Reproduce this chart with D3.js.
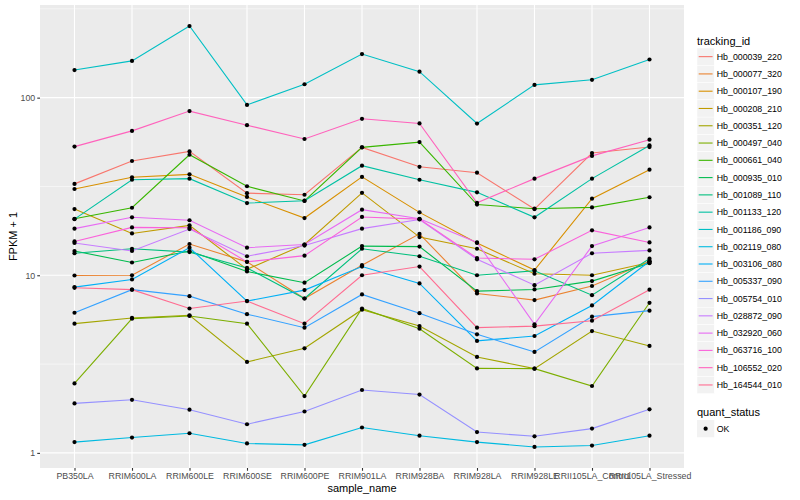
<!DOCTYPE html>
<html>
<head>
<meta charset="utf-8">
<script src="https://cdn.jsdelivr.net/npm/d3@7"></script>
<style>
  body { margin: 0; background: #fff; }
  svg text { font-family: "Liberation Sans", Arial, sans-serif; }
</style>
</head>
<body>
<div id="container"></div>
<script>
"use strict";

const width = 800;
const height = 500;
const margin = { top: 5, right: 116, bottom: 32, left: 40 };

const samples = [
  "PB350LA", "RRIM600LA", "RRIM600LE", "RRIM600SE", "RRIM600PE", "RRIM901LA",
  "RRIM928BA", "RRIM928LA", "RRIM928LE", "RRII105LA_Control", "RRII105LA_Stressed",
];

const trackingIds = [
  "Hb_000039_220", "Hb_000077_320", "Hb_000107_190", "Hb_000208_210", "Hb_000351_120",
  "Hb_000497_040", "Hb_000661_040", "Hb_000935_010", "Hb_001089_110", "Hb_001133_120",
  "Hb_001186_090", "Hb_002119_080", "Hb_003106_080", "Hb_005337_090", "Hb_005754_010",
  "Hb_028872_090", "Hb_032920_060", "Hb_063716_100", "Hb_106552_020", "Hb_164544_010",
];

const hueColors = [
  "#F8766D", "#EA8331", "#D89000", "#C09B00", "#A3A500", "#7CAE00", "#39B600",
  "#00BB4E", "#00BF7D", "#00C1A3", "#00BFC4", "#00BAE0", "#00B0F6", "#35A2FF",
  "#9590FF", "#C77CFF", "#E76BF3", "#FA62DB", "#FF62BC", "#FF6C91",
];

// FPKM + 1, one array per tracking_id, in sample order
const hb000039 = [32.7, 44, 49.8, 29, 28.4, 52.5, 40.8, 37.8, 23.6, 48.8, 52.7];
const hb000077 = [9.97, 10.0, 15.0, 11.9, 7.4, 11.4, 17.1, 7.9, 7.25, 8.7, 12.0];
const hb000107 = [30.6, 35.6, 37.0, 27.6, 21.0, 35.8, 22.6, 15.2, 10.7, 27.0, 39.3];
const hb000208 = [23.6, 17.2, 19.1, 10.8, 14.9, 29.1, 16.4, 14.1, 10.2, 10.0, 11.8];
const hb000351 = [5.34, 5.75, 5.95, 3.25, 3.88, 6.4, 5.18, 3.47, 2.98, 4.85, 4.0];
const hb000497 = [2.46, 5.7, 5.9, 5.34, 2.09, 6.5, 5.0, 2.99, 2.98, 2.38, 7.0];
const hb000661 = [20.8, 24.0, 47.7, 31.7, 26.2, 52.5, 56.2, 25.0, 23.7, 24.1, 27.5];
const hb000935 = [13.7, 11.8, 13.7, 10.5, 9.08, 14.6, 14.5, 8.14, 8.32, 9.27, 11.7];
const hb001089 = [13.3, 14.1, 13.5, 11.0, 7.4, 14.1, 12.8, 10.0, 10.6, 7.73, 12.4];
const hb001133 = [20.7, 34.5, 35.0, 25.5, 26.3, 41.4, 34.5, 29.3, 21.2, 35.0, 53.8];
const hb001186 = [143, 161, 253, 91, 119, 176, 140, 71.5, 118, 126, 164];
const hb002119 = [1.15, 1.22, 1.29, 1.13, 1.11, 1.39, 1.25, 1.15, 1.08, 1.10, 1.25];
const hb003106 = [8.58, 9.47, 14.3, 7.16, 8.25, 11.2, 9.0, 4.27, 4.55, 6.76, 12.0];
const hb005337 = [6.15, 8.3, 7.63, 6.04, 5.07, 7.8, 6.12, 4.65, 3.70, 5.85, 6.32];
const hb005754 = [1.90, 1.99, 1.75, 1.45, 1.71, 2.26, 2.13, 1.31, 1.24, 1.37, 1.76];
const hb028872 = [15.2, 13.7, 18.2, 12.8, 14.7, 18.3, 20.6, 12.3, 8.8, 13.3, 13.8];
const hb032920 = [18.3, 21.2, 20.4, 14.3, 14.9, 23.4, 20.8, 15.3, 5.3, 14.6, 18.6];
const hb063716 = [15.5, 18.6, 18.5, 11.9, 12.9, 21.3, 20.7, 12.5, 12.3, 17.9, 15.3];
const hb106552 = [53, 65, 84, 70, 58.5, 76, 71.6, 25.6, 35, 47, 58];
const hb164544 = [8.5, 8.3, 6.5, 7.16, 5.34, 10.0, 11.2, 5.07, 5.17, 5.55, 8.3];

const seriesValues = [
  hb000039, hb000077, hb000107, hb000208, hb000351, hb000497, hb000661,
  hb000935, hb001089, hb001133, hb001186, hb002119, hb003106, hb005337,
  hb005754, hb028872, hb032920, hb063716, hb106552, hb164544,
];

const yMajorTicks = [1, 10, 100];
const yMinorTicks = [Math.sqrt(10), Math.sqrt(1000), Math.sqrt(100000)];
const quantLevels = ["OK"];

const series = trackingIds.map((id, i) => ({
  id,
  color: hueColors[i],
  points: samples.map((s, j) => ({ sample: s, value: seriesValues[i][j] })),
}));

const allValues = seriesValues.flat();
const logMin = Math.log10(d3.min(allValues));
const logMax = Math.log10(d3.max(allValues));
const pad = (logMax - logMin) * 0.05;

const panelLeft = margin.left;
const panelRight = width - margin.right;
const panelTop = margin.top;
const panelBottom = height - margin.bottom;

const xScale = d3
  .scalePoint()
  .domain(samples)
  .range([panelLeft, panelRight])
  .padding(0.6);

const yScale = d3
  .scaleLog()
  .domain([Math.pow(10, logMin - pad), Math.pow(10, logMax + pad)])
  .range([panelBottom, panelTop]);

const svg = d3
  .select("#container")
  .append("svg")
  .attr("width", width)
  .attr("height", height);

svg
  .append("rect")
  .attr("x", panelLeft)
  .attr("y", panelTop)
  .attr("width", panelRight - panelLeft)
  .attr("height", panelBottom - panelTop)
  .attr("fill", "#EBEBEB");

const grid = svg.append("g");

grid
  .selectAll("line.minor")
  .data(yMinorTicks)
  .enter()
  .append("line")
  .attr("x1", panelLeft)
  .attr("x2", panelRight)
  .attr("y1", (d) => yScale(d))
  .attr("y2", (d) => yScale(d))
  .attr("stroke", "#fff")
  .attr("stroke-width", 0.55);

grid
  .selectAll("line.majory")
  .data(yMajorTicks)
  .enter()
  .append("line")
  .attr("x1", panelLeft)
  .attr("x2", panelRight)
  .attr("y1", (d) => yScale(d))
  .attr("y2", (d) => yScale(d))
  .attr("stroke", "#fff")
  .attr("stroke-width", 1.1);

grid
  .selectAll("line.majorx")
  .data(samples)
  .enter()
  .append("line")
  .attr("x1", (d) => xScale(d))
  .attr("x2", (d) => xScale(d))
  .attr("y1", panelTop)
  .attr("y2", panelBottom)
  .attr("stroke", "#fff")
  .attr("stroke-width", 1.1);

const line = d3
  .line()
  .x((d) => xScale(d.sample))
  .y((d) => yScale(d.value));

svg
  .append("g")
  .selectAll("path")
  .data(series)
  .enter()
  .append("path")
  .attr("d", (d) => line(d.points))
  .attr("fill", "none")
  .attr("stroke", (d) => d.color)
  .attr("stroke-width", 1.1);

svg
  .append("g")
  .selectAll("circle")
  .data(series.flatMap((d) => d.points))
  .enter()
  .append("circle")
  .attr("cx", (d) => xScale(d.sample))
  .attr("cy", (d) => yScale(d.value))
  .attr("r", 2.1)
  .attr("fill", "#000");

const yAxis = d3
  .axisLeft(yScale)
  .tickValues(yMajorTicks)
  .tickFormat(d3.format("d"))
  .tickSize(2.75)
  .tickPadding(2);

const xAxis = d3.axisBottom(xScale).tickSize(2.75).tickPadding(2.5);

const styleAxis = (g) => {
  g.select(".domain").remove();
  g.selectAll(".tick line").attr("stroke", "#333333").attr("stroke-width", 1.1);
  g.selectAll(".tick text")
    .attr("fill", "#4D4D4D")
    .style("font-size", "8.8px")
    .style("font-family", "'Liberation Sans', Arial, sans-serif");
};

svg
  .append("g")
  .attr("transform", `translate(${panelLeft}, 0)`)
  .call(yAxis)
  .call(styleAxis);

svg
  .append("g")
  .attr("transform", `translate(0, ${panelBottom})`)
  .call(xAxis)
  .call(styleAxis);

svg
  .append("text")
  .attr("x", (panelLeft + panelRight) / 2)
  .attr("y", 492)
  .attr("text-anchor", "middle")
  .style("font-size", "11px")
  .text("sample_name");

svg
  .append("text")
  .attr("text-anchor", "middle")
  .attr("transform", `translate(17, ${(panelTop + panelBottom) / 2}) rotate(-90)`)
  .style("font-size", "11px")
  .text("FPKM + 1");

// legends
const legendX = 697;
const keySize = 17.28;
const legend = svg.append("g");

legend
  .append("text")
  .attr("x", legendX)
  .attr("y", 44.5)
  .style("font-size", "11px")
  .text("tracking_id");

const keys = legend
  .selectAll("g.key")
  .data(series)
  .enter()
  .append("g")
  .attr("transform", (d, i) => `translate(${legendX}, ${48 + i * keySize})`);

keys
  .append("rect")
  .attr("width", keySize)
  .attr("height", keySize)
  .attr("fill", "#F2F2F2")
  .attr("stroke", "#fff")
  .attr("stroke-width", 0.5);

keys
  .append("line")
  .attr("x1", 1.7)
  .attr("x2", keySize - 1.7)
  .attr("y1", keySize / 2)
  .attr("y2", keySize / 2)
  .attr("stroke", (d) => d.color)
  .attr("stroke-width", 1.1);

keys
  .append("text")
  .attr("x", keySize + 2.5)
  .attr("y", keySize / 2 + 3.1)
  .style("font-size", "8.8px")
  .text((d) => d.id);

legend
  .append("text")
  .attr("x", legendX)
  .attr("y", 416)
  .style("font-size", "11px")
  .text("quant_status");

const qKeys = legend
  .selectAll("g.qkey")
  .data(quantLevels)
  .enter()
  .append("g")
  .attr("transform", (d, i) => `translate(${legendX}, ${420 + i * keySize})`);

qKeys
  .append("rect")
  .attr("width", keySize)
  .attr("height", keySize)
  .attr("fill", "#F2F2F2");

qKeys
  .append("circle")
  .attr("cx", keySize / 2)
  .attr("cy", keySize / 2)
  .attr("r", 2.1)
  .attr("fill", "#000");

qKeys
  .append("text")
  .attr("x", keySize + 2.5)
  .attr("y", keySize / 2 + 3.1)
  .style("font-size", "8.8px")
  .text((d) => d);
</script>
</body>
</html>
